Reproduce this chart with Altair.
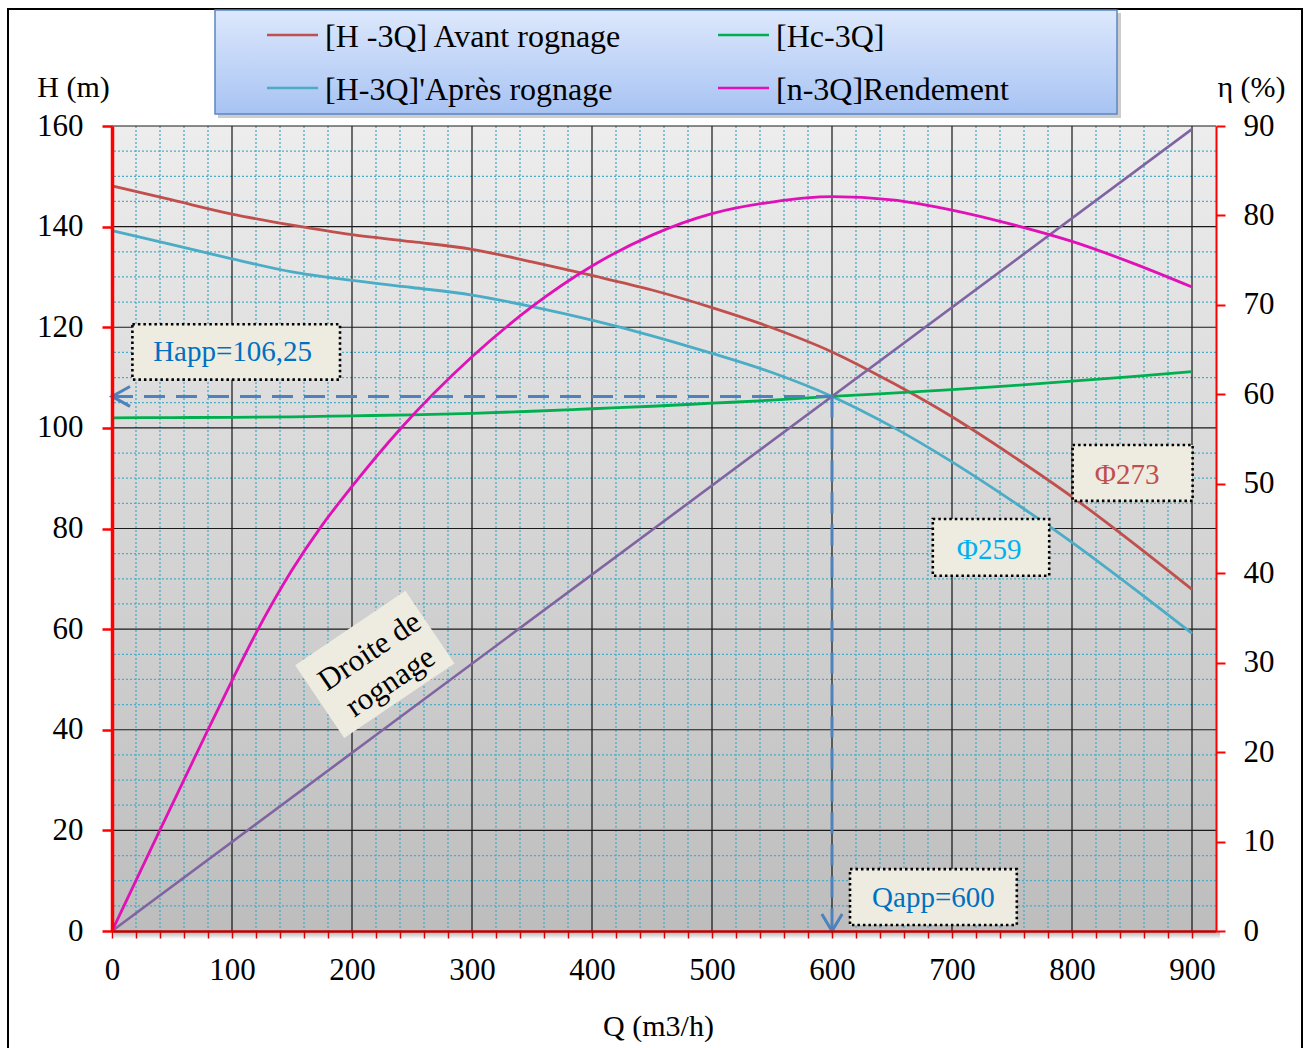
import altair as alt
import pandas as pd

# Courbes caractéristiques de la pompe : Q (m3/h), H (m), rendement (%)
q = [0, 50, 100, 150, 200, 250, 300, 350, 400, 450, 500, 550, 600, 650, 700, 750, 800, 850, 900]
h_avant = [148.1, 145.3, 142.5, 140.3, 138.4, 137.0, 135.5, 133.0, 130.3, 127.4, 123.9, 119.9,
           115.1, 109.0, 102.2, 94.5, 86.3, 77.3, 67.9]
h_apres = [139.2, 136.4, 133.6, 131.0, 129.3, 127.9, 126.4, 124.1, 121.4, 118.3, 114.8, 111.0,
           106.25, 100.25, 93.25, 85.5, 77.25, 68.35, 59.15]
h_conduite = [102.0, 102.05, 102.1, 102.2, 102.4, 102.6, 102.9, 103.3, 103.8, 104.3, 104.9, 105.5,
              106.25, 106.9, 107.6, 108.4, 109.3, 110.2, 111.2]
q_eta = [0, 40, 80, 100, 120, 150, 175, 200, 240, 300, 350, 400, 450, 500, 550, 600, 650, 700,
         750, 800, 850, 900]
eta = [0, 11.3, 22.5, 28.0, 33.3, 40.35, 45.35, 49.7, 56.1, 64.2, 69.8, 74.35, 77.8, 80.2, 81.5,
       82.1, 81.75, 80.6, 79.0, 77.1, 74.7, 72.0]
q_droite = [0, 900]
h_droite = [0, 159.375]

# Point de fonctionnement
q_app = 600
h_app = 106.25

series_names = ["[H -3Q] Avant rognage", "[H-3Q]'Après rognage", "[Hc-3Q]", "[n-3Q]Rendement"]
series_colors = ["#c0504d", "#4bacc6", "#00b050", "#e011b7"]
droite_color = "#8064a2"
arrow_color = "#4f81bd"

FONT = "Liberation Serif"
W, HT = 1104, 805

x_scale = alt.Scale(domain=[0, 920], nice=False)
y_scale = alt.Scale(domain=[0, 160], nice=False)
eta_scale = alt.Scale(domain=[0, 90], nice=False)

one = pd.DataFrame({"k": [0]})

# ---------- axes ----------
x_axis = alt.Axis(
    values=list(range(0, 901, 20)),
    labelExpr="datum.value % 100 == 0 ? datum.label : ''",
    grid=False, domainColor="#c00000", domainWidth=2.5,
    tickColor="#e00000", tickWidth=1.5, tickSize=7,
    labelFont=FONT, labelFontSize=31, labelColor="black",
    labelBaseline="alphabetic", labelPadding=41, labelFlush=False, labelOverlap=False,
    title="Q (m3/h)", titleFont=FONT, titleFontSize=30, titleFontWeight="normal",
    titleColor="black", titleX=546, titleY=104, titleBaseline="alphabetic", zindex=1,
)
y_axis = alt.Axis(
    values=list(range(0, 161, 20)),
    grid=False, domainColor="#ff0000", domainWidth=3.5,
    tickColor="#ff0000", tickWidth=2.5, tickSize=10,
    labelFont=FONT, labelFontSize=31, labelColor="black", labelPadding=19,
    labelFlush=False, labelOverlap=False,
    title="H (m)", titleFont=FONT, titleFontSize=30, titleFontWeight="normal",
    titleColor="black", titleAngle=0, titleX=-39, titleY=-30,
    titleAlign="center", titleBaseline="alphabetic", zindex=1,
)
eta_axis = alt.Axis(
    orient="right", values=list(range(0, 91, 10)),
    grid=False, domainColor="#ff0000", domainWidth=2,
    tickColor="#ff0000", tickWidth=2, tickSize=9,
    labelFont=FONT, labelFontSize=31, labelColor="black", labelPadding=18,
    labelFlush=False, labelOverlap=False,
    title="η (%)", titleFont=FONT, titleFontSize=30, titleFontWeight="normal",
    titleColor="black", titleAngle=0, titleX=35, titleY=-30,
    titleAlign="center", titleBaseline="alphabetic", zindex=1,
)


def X(field):
    return alt.X(field, scale=x_scale, axis=x_axis)


def Y(field):
    return alt.Y(field, scale=y_scale, axis=y_axis)


def Y_over(field):
    return alt.Y(field, scale=y_scale, axis=None)


# ---------- fond et quadrillage ----------
plot_bg = alt.Chart(one).mark_rect(
    color=alt.Gradient(gradient="linear", x1=0, x2=0, y1=0, y2=1,
                       stops=[alt.GradientStop(color="#ededed", offset=0),
                              alt.GradientStop(color="#bdbdbd", offset=1)])
).encode(x=alt.value(0), x2=alt.value(W), y=alt.value(0), y2=alt.value(HT))

plot_shadow = alt.Chart(one).mark_rect(
    color=alt.Gradient(gradient="linear", x1=0, x2=0, y1=0, y2=1,
                       stops=[alt.GradientStop(color="#a8a8a8", offset=0),
                              alt.GradientStop(color="#ffffff", offset=1)])
).encode(x=alt.value(2), x2=alt.value(W + 4), y=alt.value(HT), y2=alt.value(HT + 8))

grid_q_minor = [v for v in range(20, 920, 20) if v % 100]
grid_q_major = list(range(100, 901, 100))
grid_h_minor = [v for v in range(5, 160, 5) if v % 20]
grid_h_major = list(range(20, 161, 20))

minor_v = alt.Chart(pd.DataFrame({"q": grid_q_minor})).mark_rule(
    color="#4bacc6", strokeWidth=1.3, strokeDash=[2, 2]
).encode(x=X("q:Q"))

minor_h = alt.Chart(pd.DataFrame({"h": grid_h_minor})).mark_rule(
    color="#4bacc6", strokeWidth=1.3, strokeDash=[2, 2]
).encode(y=Y("h:Q"))

major_v = alt.Chart(pd.DataFrame({"q": grid_q_major})).mark_rule(
    color="#000000", strokeWidth=1.1
).encode(x=X("q:Q"))

major_h = alt.Chart(pd.DataFrame({"h": grid_h_major})).mark_rule(
    color="#1a1a1a", strokeWidth=1.2
).encode(y=Y("h:Q"))

# ---------- étiquette "Droite de rognage" ----------
droite_pos = pd.DataFrame({"q": [219.0], "h": [53.0], "tq": [215.0], "th": [55.5]})

droite_box = alt.Chart(droite_pos).mark_point(
    shape="M-1,-0.66L1,-0.66L1,0.66L-1,0.66Z", size=133 ** 2, angle=326,
    filled=True, color="#eeece1", opacity=1, strokeWidth=0
).encode(x=X("q:Q"), y=Y("h:Q"))

droite_text = alt.Chart(droite_pos).mark_text(
    text="Droite de\nrognage", lineBreak="\n", angle=326, font=FONT, fontSize=31,
    lineHeight=37, align="center", baseline="middle", color="black"
).encode(x=X("tq:Q"), y=Y("th:Q"))

# ---------- courbes H ----------
df_h = pd.DataFrame({"q": q, "h_avant": h_avant, "h_apres": h_apres, "h_conduite": h_conduite})


def h_line(field, color):
    return alt.Chart(df_h).mark_line(color=color, strokeWidth=2.8, interpolate="monotone").encode(
        x=X("q:Q"), y=Y(f"{field}:Q"))


line_avant = h_line("h_avant", series_colors[0])
line_apres = h_line("h_apres", series_colors[1])
line_conduite = h_line("h_conduite", series_colors[2])

line_droite = alt.Chart(pd.DataFrame({"q": q_droite, "h": h_droite})).mark_line(
    color=droite_color, strokeWidth=2.6
).encode(x=X("q:Q"), y=Y("h:Q"))

base = alt.layer(plot_shadow, plot_bg, minor_v, minor_h, major_v, major_h,
                 droite_box, droite_text, line_avant, line_apres, line_conduite, line_droite)

# ---------- rendement (axe de droite) ----------
line_eta = alt.Chart(pd.DataFrame({"q": q_eta, "eta": eta})).mark_line(
    color=series_colors[3], strokeWidth=2.8, interpolate="monotone"
).encode(x=X("q:Q"), y=alt.Y("eta:Q", scale=eta_scale, axis=eta_axis))

# ---------- point de fonctionnement : flèches en pointillés ----------
df_app = pd.DataFrame({"q": [q_app], "h": [h_app], "zero": [0]})

h_arrow = alt.Chart(df_app).mark_rule(color=arrow_color, strokeWidth=3, strokeDash=[21, 11]).encode(
    x=X("zero:Q"), x2="q:Q", y=Y_over("h:Q"))
v_arrow = alt.Chart(df_app).mark_rule(color=arrow_color, strokeWidth=3, strokeDash=[21, 11]).encode(
    x=X("q:Q"), y=Y_over("h:Q"), y2="zero:Q")
h_head = alt.Chart(df_app).mark_point(
    shape="M1,-0.55L0,0L1,0.55", size=36 ** 2, filled=False, color=arrow_color,
    strokeWidth=3, opacity=1
).encode(x=X("zero:Q"), y=Y_over("h:Q"))
v_head = alt.Chart(df_app).mark_point(
    shape="M-0.6,-1L0,0L0.6,-1", size=34 ** 2, filled=False, color=arrow_color,
    strokeWidth=3, opacity=1
).encode(x=X("q:Q"), y=Y_over("zero:Q"))

# ---------- cadres d'annotation ----------
happ_label = "Happ=" + f"{h_app:.2f}".replace(".", ",")
qapp_label = f"Qapp={q_app}"
notes = pd.DataFrame({
    "label": [happ_label, "Φ273", "Φ259", qapp_label],
    "color": ["#0070c0", "#c0504d", "#00b0f0", "#0070c0"],
    "q1": [17, 800.5, 684, 615], "q2": [190, 900.5, 781, 754],
    "h1": [120.6, 96.6, 81.9, 12.3], "h2": [109.6, 85.5, 70.6, 1.2],
    "tq": [100.5, 846, 731, 684.5], "th": [115.0, 90.6, 75.8, 6.6],
})
note_boxes = alt.Chart(notes).mark_rect(
    fill="#eeece1", stroke="black", strokeWidth=2.6, strokeDash=[2.5, 3]
).encode(x=X("q1:Q"), x2="q2:Q", y=Y_over("h1:Q"), y2="h2:Q")
note_texts = alt.Chart(notes).mark_text(
    font=FONT, fontSize=29, align="center", baseline="middle"
).encode(x=X("tq:Q"), y=Y_over("th:Q"),
         text="label:N", color=alt.Color("color:N", scale=None))

# ---------- cadre général et légende ----------
frame = alt.Chart(one).mark_rect(fill="white", fillOpacity=0, stroke="black", strokeWidth=2).encode(
    x=alt.value(-104), x2=alt.value(1190), y=alt.value(-117), y2=alt.value(940))

legend_shadow = alt.Chart(one).mark_rect(color="#8e8e8e", opacity=0.45).encode(
    x=alt.value(106), x2=alt.value(1009), y=alt.value(-113), y2=alt.value(-8))
legend_box = alt.Chart(one).mark_rect(
    fill=alt.Gradient(gradient="linear", x1=0, x2=0, y1=0, y2=1,
                      stops=[alt.GradientStop(color="#dde8fc", offset=0),
                             alt.GradientStop(color="#a7c3f3", offset=1)]),
    stroke="#5b86c3", strokeWidth=1.5
).encode(x=alt.value(103), x2=alt.value(1005), y=alt.value(-116), y2=alt.value(-12))

legend_layers = [legend_shadow, legend_box]
legend_slots = [(155, -91), (155, -38), (606, -91), (606, -38)]
for name, color, (lx, ly) in zip(series_names, series_colors, legend_slots):
    legend_layers.append(alt.Chart(one).mark_rule(color=color, strokeWidth=2.5).encode(
        x=alt.value(lx), x2=alt.value(lx + 51), y=alt.value(ly)))
    legend_layers.append(alt.Chart(one).mark_text(
        text=name, font=FONT, fontSize=32, align="left", baseline="alphabetic", color="black"
    ).encode(x=alt.value(lx + 58), y=alt.value(ly + 12)))

overlay = alt.layer(h_arrow, v_arrow, h_head, v_head, note_boxes, note_texts, frame, *legend_layers)

chart = alt.layer(base, line_eta, overlay).resolve_scale(y="independent").properties(
    width=W, height=HT,
    padding={"left": 112, "top": 126, "right": 93, "bottom": 117},
    autosize=alt.AutoSizeParams(type="none"),
    background="white",
).configure_view(stroke=None)

chart.save("out.html", embed_options={"renderer": "svg", "actions": False})
